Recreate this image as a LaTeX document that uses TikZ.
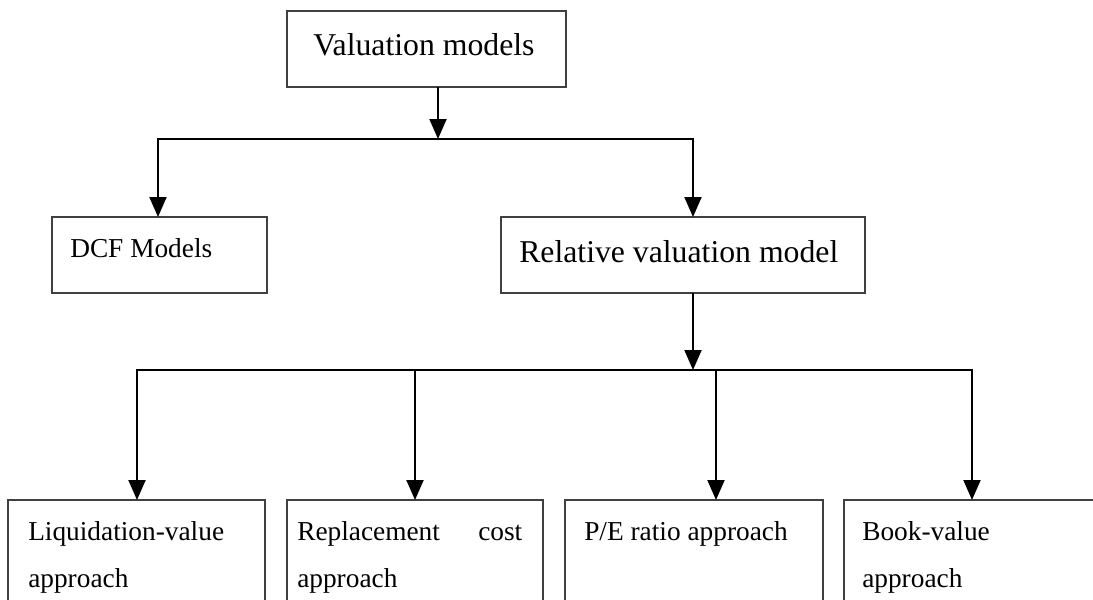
\documentclass[tikz,border=0pt]{standalone}
\usepackage{fontspec}
\setmainfont{Liberation Serif}
\usetikzlibrary{arrows.meta,calc}
\newdimen\pu \pu=0.75pt
\tikzset{
 box/.style={draw=black!75, line width=1.5pt, inner sep=0pt, outer sep=0pt, anchor=north west},
 big/.style={font=\fontsize{23.8}{28}\selectfont, anchor=base west, inner sep=0pt},
 small/.style={font=\fontsize{20.5}{30}\selectfont, anchor=base west, inner sep=0pt},
 conn/.style={line width=1.5pt, black},
 arr/.style={conn, -{Triangle[length=15pt, width=12.75pt]}},
}
\begin{document}
\begin{tikzpicture}[x=0.75pt,y=-0.75pt]
\clip (0,0) rectangle (1093,600);
\fill[white] (0,0) rectangle (1093,600);
% boxes
\node[box, minimum width=209.25pt, minimum height=57pt] (val) at (287,11) {};
\node[box, minimum width=161.25pt, minimum height=57pt] (dcf) at (52,217) {};
\node[box, minimum width=273pt, minimum height=57pt] (rel) at (501,217) {};
\node[box, minimum width=192.75pt, minimum height=97.5pt] (liq) at (8,500) {};
\node[box, minimum width=192pt, minimum height=97.5pt] (rep) at (287,500) {};
\node[box, minimum width=193.5pt, minimum height=97.5pt] (pe) at (565,500) {};
\node[box, minimum width=193.5pt, minimum height=97.5pt] (bv) at (844,500) {};
% texts
\node[big] (valt) at (313,55) {Valuation models};
\node[big] (relt) at (519,262) {Relative valuation model};
\node[small] (dcft) at (70,257) {DCF Models};
\node[small] (liqt1) at (28,540) {Liquidation-value};
\node[small] (liqt2) at (28,587) {approach};
\node[small] (rept1) at (297,540) {\makebox[168.75pt][l]{Replacement\hfill cost}};
\node[small] (rept2) at (297,587) {approach};
\node[small] (pet1) at (584,540) {P/E ratio approach};
\node[small] (bvt1) at (862,540) {Book-value};
\node[small] (bvt2) at (862,587) {approach};
% junctions
\coordinate (j1) at (438,139);
\coordinate (jl) at (158,139);
\coordinate (jr) at (693,139);
\coordinate (j2) at (693,370);
\coordinate (k1) at (137,370);
\coordinate (k2) at (415,370);
\coordinate (k3) at (716,370);
\coordinate (k4) at (972,370);
% connectors
\draw[arr] (val.south -| j1) -- (j1);
\draw[arr] (jr) -- (jl) -- (dcf.north -| jl);
\draw[arr] (jl) -- (jr) -- (rel.north -| jr);
\draw[arr] (rel.south -| j2) -- (j2);
\draw[arr] (k4) -- (k1) -- (liq.north -| k1);
\draw[arr] (k1) -- (k4) -- (bv.north -| k4);
\draw[arr] (k2) -- (rep.north -| k2);
\draw[arr] (k3) -- (pe.north -| k3);
\end{tikzpicture}
\end{document}
